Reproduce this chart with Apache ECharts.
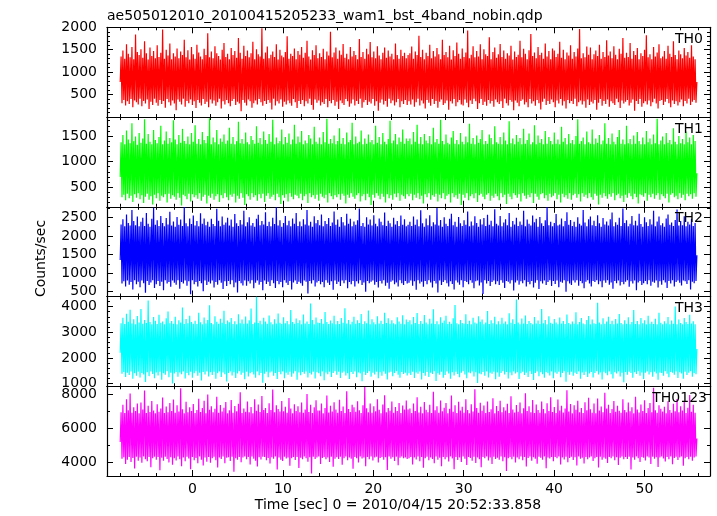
<!DOCTYPE html>
<html><head><meta charset="utf-8">
<script src="https://cdn.jsdelivr.net/npm/echarts@6/dist/echarts.min.js"></script>
<style>html,body{margin:0;padding:0;background:#fff}#c{width:717px;height:516px}</style>
</head><body><div id="c"></div>
<script>
const chartTitle = 'ae505012010_20100415205233_wam1_bst_4band_nobin.qdp';
const xAxisTitle = 'Time [sec] 0 = 2010/04/15 20:52:33.858';
const yAxisTitle = 'Counts/sec';
const bandNames = ['TH0', 'TH1', 'TH2', 'TH3', 'TH0123'];
const timeStart = -8.0;
const timeEnd = 55.8;
const xRange = [-9.46, 57.25];
const xMajorTicks = [0, 10, 20, 30, 40, 50];
const xMinorStep = 2;

const th0 = [
780,1350,310,1480,380,1300,260,1620,350,1410,290,1330,400,1560,220,1290,370,1840,330,1450,
280,1380,410,1510,240,1320,360,1690,300,1420,390,1280,180,1550,340,1360,270,1470,410,1310,
320,1600,250,1340,380,1430,290,1950,360,1300,210,1500,400,1370,330,1640,260,1290,370,1420,
300,1350,150,1530,390,1310,340,1460,280,1380,410,1720,230,1330,360,1490,310,1280,390,1560,
270,1400,350,1300,200,1610,380,1440,320,1350,260,1290,400,1520,290,1380,340,1870,220,1330,
390,1460,300,1310,370,1580,250,1420,330,1360,410,1280,190,1500,350,1650,280,1340,380,1410,
310,1290,240,1540,360,1380,400,1470,270,1320,340,1760,300,1430,130,1300,380,1590,320,1360,
260,1480,390,1330,350,1420,210,1680,310,1290,370,1510,280,1400,400,1350,330,1980,250,1300,
360,1440,290,1570,380,1310,320,1390,170,1460,410,1340,260,1620,350,1280,300,1500,390,1370,
230,1330,340,1450,280,1800,370,1300,310,1410,250,1360,400,1530,330,1290,200,1470,360,1390,
290,1560,380,1320,240,1430,350,1700,300,1350,410,1280,270,1490,160,1380,390,1600,320,1310,
370,1420,260,1340,330,1520,290,1290,400,1460,220,1370,360,1900,310,1330,380,1440,250,1550,
340,1300,180,1480,370,1390,310,1630,270,1320,400,1410,350,1290,230,1560,300,1350,390,1470,
260,1380,360,1290,290,1740,410,1340,210,1450,330,1300,380,1520,270,1400,340,1670,300,1330,
400,1460,250,1310,350,1580,140,1370,320,1290,390,1430,280,1550,360,1320,230,1480,410,1350,
310,1410,370,1290,260,1640,330,1380,400,1300,220,1500,350,1360,290,1430,380,1310,270,1380,
350,1420,280,1570,390,1300,230,1460,330,1380,410,1810,260,1340,370,1500,300,1290,190,1430,
380,1360,320,1610,250,1310,400,1470,290,1350,360,1540,210,1400,340,1290,390,1720,270,1380,
310,1450,370,1330,160,1590,350,1280,300,1490,400,1360,240,1660,330,1410,380,1300,280,1530,
260,1340,390,1440,320,1930,220,1310,370,1390,290,1580,410,1330,350,1470,180,1350,310,1620,
400,1290,270,1510,340,1400,250,1360,380,1780,300,1290,360,1450,230,1550,390,1320,330,1400,
290,1630,350,1340,200,1480,410,1300,310,1420,260,1370,380,1590,340,1280,150,1460,370,1340,
320,1390,240,1700,360,1330,390,1520,280,1410,330,1290,220,1490,400,1850,300,1360,350,1440,
250,1310,380,1560,310,1380,170,1430,340,1300,410,1640,270,1350,360,1470,290,1290,390,1530,
330,1480,220,1340,370,1410,300,1680,400,1320,260,1500,350,1290,190,1440,380,1370,310,1600,
360,1300,290,1450,410,1350,240,1530,330,1960,370,1310,280,1420,350,1330,210,1570,390,1390,
270,1550,340,1290,300,1400,380,1480,160,1360,320,1610,400,1300,250,1450,360,1340,290,1710,
390,1370,230,1460,350,1310,310,1580,270,1390,410,1290,330,1520,200,1410,370,1760,300,1320,
340,1430,380,1340,260,1650,320,1300,390,1470,140,1380,360,1540,290,1290,400,1420,230,1360,
310,1500,350,1820,280,1330,370,1400,240,1290,330,1560,410,1350,300,1440,190,1620,360,1310,
380,1350,270,1470,340,1300,400,1590,310,1410,220,1340,370,1690,290,1380,350,1290,260,1480,
330,1400,390,1310,240,1540,360,1370,300,1450,410,1320,270,1600,340,1350,380,1290,320,780
];
const th1 = [
700,1380,300,1520,350,1340,240,1610,370,1430,280,1360,330,1750,210,1400,360,1490,290,1330,
380,1560,260,1370,340,1450,190,1830,310,1350,370,1540,250,1390,320,1340,160,1620,350,1420,
280,1360,380,1480,230,1700,330,1340,300,1410,360,1590,200,1350,370,1460,270,1380,340,1810,
310,1430,250,1340,380,1520,290,1370,140,1640,350,1400,320,1350,260,1490,370,1340,220,1560,
360,1390,300,1710,340,1350,270,1440,380,1340,230,1580,310,1420,350,1360,180,1500,330,1850,
290,1340,370,1470,250,1380,320,1620,360,1340,210,1450,340,1390,280,1530,380,1350,300,1410,
240,1660,350,1350,310,1480,370,1340,200,1400,330,1780,270,1360,380,1440,290,1350,150,1570,
360,1380,320,1340,250,1500,380,1420,300,1350,340,1690,230,1370,360,1460,280,1340,370,1590,
210,1420,330,1350,380,1540,270,1390,310,1820,350,1340,240,1470,370,1360,300,1400,170,1630,
340,1340,290,1480,360,1370,220,1550,380,1340,310,1430,260,1720,350,1350,330,1490,280,1380,
370,1600,240,1340,320,1410,360,1360,190,1520,380,1450,300,1340,340,1680,270,1390,350,1350,
230,1470,370,1340,310,1580,280,1380,350,1840,200,1350,380,1440,320,1360,260,1510,340,1340,
300,1400,360,1650,250,1350,370,1460,330,1340,180,1570,350,1380,290,1420,380,1760,310,1340,
270,1490,340,1360,380,1390,220,1610,320,1340,360,1450,240,1350,370,1530,300,1380,150,1420,
350,1340,290,1700,380,1370,330,1480,260,1340,370,1560,310,1390,200,1340,360,1440,280,1800,
340,1360,250,1410,370,1540,300,1340,380,1470,230,1390,350,1630,320,1350,270,1450,360,1400,
320,1450,370,1340,240,1580,350,1390,290,1720,380,1350,260,1480,330,1340,180,1540,360,1410,
300,1360,380,1500,250,1340,340,1660,310,1380,370,1440,220,1350,350,1820,280,1400,380,1340,
260,1530,330,1370,360,1340,200,1470,380,1600,300,1350,340,1420,270,1340,370,1560,150,1390,
350,1340,290,1490,380,1380,240,1740,320,1350,360,1460,280,1340,380,1510,210,1370,340,1440,
370,1620,310,1340,260,1400,350,1350,380,1530,230,1460,330,1340,290,1690,370,1380,320,1350,
240,1480,380,1340,300,1570,350,1410,170,1340,370,1790,310,1360,260,1450,380,1340,340,1520,
290,1390,360,1460,220,1340,380,1640,330,1350,270,1420,350,1550,300,1340,380,1380,190,1710,
370,1340,310,1510,250,1370,360,1440,380,1340,280,1600,340,1350,230,1480,370,1400,300,1340,
330,1570,380,1350,260,1430,350,1340,200,1680,370,1390,300,1460,340,1340,270,1540,380,1360,
250,1420,340,1340,370,1500,290,1830,360,1350,220,1400,380,1470,310,1340,350,1590,280,1380,
380,1350,300,1630,250,1340,370,1450,330,1370,160,1520,350,1340,290,1410,380,1750,320,1350,
270,1460,360,1340,310,1550,380,1390,240,1340,340,1480,370,1620,280,1350,330,1430,210,1340,
350,1700,290,1360,380,1440,320,1340,260,1510,370,1350,300,1580,180,1400,360,1340,340,1470,
310,1340,380,1600,230,1380,350,1450,300,1340,370,1530,270,1360,340,1840,380,1340,250,1410,
360,1490,320,1340,280,1560,370,1370,200,1420,350,1340,380,1650,300,1390,330,1340,260,1500,
380,1360,290,1440,350,1340,240,1590,370,1380,320,1470,360,1340,270,1520,380,1400,310,770
];
const th2 = [
1350,2310,720,2450,780,2260,640,2580,800,2350,690,2280,760,2700,560,2400,810,2290,700,2520,
770,2260,620,2380,800,2490,730,2270,470,2620,790,2330,680,2250,750,2460,810,2760,600,2300,
700,2420,790,2270,650,2540,770,2350,540,2260,810,2480,720,2310,760,2650,630,2280,800,2390,
740,2250,690,2510,810,2300,580,2440,760,2270,720,2780,800,2340,660,2260,780,2470,430,2320,
810,2550,700,2280,760,2400,640,2260,790,2610,730,2330,510,2470,800,2290,680,2380,770,2250,
720,2460,800,2320,610,2270,760,2730,690,2410,810,2260,740,2520,570,2300,780,2360,650,2490,
790,2280,700,2440,810,2250,620,2590,750,2340,480,2270,790,2430,730,2310,670,2680,800,2260,
660,2370,780,2500,720,2280,810,2350,590,2250,740,2460,800,2570,690,2290,760,2400,540,2310,
800,2640,710,2270,770,2380,650,2260,810,2490,730,2320,600,2770,790,2280,700,2420,760,2250,
620,2350,810,2540,740,2290,680,2410,790,2260,560,2470,750,2330,800,2620,710,2270,770,2390,
730,2260,660,2450,800,2310,770,2700,450,2280,790,2380,720,2250,810,2530,640,2340,750,2430,
790,2290,700,2580,760,2260,620,2400,810,2320,740,2480,680,2270,780,2360,550,2660,800,2300,
710,2440,770,2250,650,2510,800,2370,730,2280,810,2600,590,2330,760,2460,700,2260,790,2390,
640,2300,780,2420,720,2740,810,2270,680,2350,750,2250,500,2500,790,2310,730,2440,770,2280,
800,2560,690,2330,760,2260,610,2470,790,2380,720,2290,810,2630,660,2270,740,2410,580,2340,
770,2250,800,2490,700,2310,750,2400,640,2270,810,2550,730,2300,680,2450,790,2260,720,2300,
740,2380,800,2270,660,2520,780,2300,550,2440,810,2260,720,2690,770,2340,630,2250,790,2470,
700,2290,810,2560,750,2260,610,2370,790,2310,720,2750,480,2280,800,2430,680,2250,760,2500,
810,2330,730,2270,640,2460,780,2600,710,2290,560,2380,800,2250,750,2510,690,2340,810,2270,
620,2420,790,2300,760,2660,700,2260,810,2390,740,2280,590,2530,780,2350,800,2250,670,2450,
750,2310,440,2480,810,2270,720,2570,790,2300,650,2410,760,2260,800,2720,700,2330,780,2280,
680,2540,810,2260,740,2360,600,2450,790,2290,770,2620,720,2250,810,2400,530,2310,750,2490,
800,2270,690,2390,780,2300,730,2680,810,2260,640,2440,760,2330,700,2280,790,2550,610,2370,
740,2460,810,2250,570,2510,780,2340,720,2270,800,2420,680,2770,760,2290,810,2380,650,2260,
790,2350,710,2590,800,2280,620,2310,770,2470,740,2260,810,2400,500,2640,780,2300,720,2430,
680,2270,800,2380,750,2250,810,2500,660,2330,790,2280,730,2700,590,2360,770,2260,810,2450,
720,2520,640,2290,790,2410,760,2270,810,2560,700,2340,780,2250,620,2480,800,2310,740,2390,
810,2280,690,2450,750,2630,580,2260,790,2370,730,2300,800,2490,670,2270,760,2740,700,2350,
770,2420,810,2260,630,2330,780,2540,720,2290,800,2410,540,2280,750,2600,790,2320,680,2250,
730,2500,790,2370,700,2270,810,2450,660,2310,770,2680,740,2260,800,2390,610,2520,780,2290,
690,2340,810,2250,750,2470,600,2580,790,2300,720,2360,810,2270,640,2430,760,2710,800,2280,
740,2400,670,2290,800,2530,780,2260,710,2380,810,2310,560,2460,770,2270,730,2350,790,1480
];
const th3 = [
2200,3350,1380,3560,1450,3320,1260,3720,1420,3410,1330,3870,1470,3340,1190,3500,1400,3310,1300,3630,
1460,3380,1240,3900,1410,3330,1350,3480,1060,3360,1440,4230,1290,3400,1470,3310,1370,3590,1210,3450,
1430,3320,1310,3680,1460,3370,1150,3420,1400,3310,1340,3540,1480,3810,1250,3350,1420,3440,1000,3330,
1390,3600,1450,3310,1270,3470,1430,3380,1360,3960,1470,3320,1200,3510,1410,3350,1320,3640,1460,3400,
1230,3330,1400,3450,1480,3320,1300,3760,1420,3390,1120,3310,1450,3570,1350,3340,1470,3480,1280,4050,
1440,3360,1330,3310,1460,3620,1190,3410,1400,3330,1470,3520,1260,3370,1430,3840,1360,3320,1080,3460,
1410,3390,1470,3550,1310,3320,1440,3430,1220,3310,1390,3700,1480,3350,1340,3490,1420,3330,1170,3610,
1460,3340,1280,3470,1400,3920,1450,3320,1350,3380,1230,4380,1470,3360,1320,3450,1410,3310,1030,3560,
1380,3420,1460,3330,1250,3650,1430,3390,1470,3310,1300,3500,1410,3340,1180,3730,1450,3370,1360,3320,
1470,3580,1210,3350,1420,3440,1340,3310,1460,3860,1270,3400,1390,3330,1480,3530,1150,3360,1430,3470,
1320,3310,1450,3690,1380,3340,1470,3420,1240,3320,1410,4120,1350,3480,1460,3310,1200,3570,1440,3380,
1400,3360,1290,3510,1470,3330,1130,3790,1430,3400,1360,3320,1460,3460,1260,3350,1410,3640,1480,3310,
1340,3440,1460,3320,1220,3550,1420,3370,1470,3930,1310,3340,1400,3480,1180,3310,1450,3410,1370,3600,
1470,3330,1250,3470,1430,3360,1390,3710,1090,3320,1460,3430,1330,3350,1410,3850,1480,3310,1270,3500,
1420,3390,1350,3310,1460,3620,1210,3340,1440,3450,1300,3320,1470,3760,1380,3360,1160,3540,1430,3330,
1460,3470,1290,3350,1410,3310,1480,3580,1340,3420,1230,3330,1450,3660,1370,3310,1420,3490,1310,3400,
1400,3470,1330,3310,1460,3590,1220,3360,1430,3750,1380,3320,1470,3440,1160,3330,1410,3670,1300,3380,
1450,3310,1260,3520,1420,3340,1370,3890,1480,3320,1100,3430,1400,3310,1340,3580,1460,3370,1230,3460,
1330,3640,1470,3320,1390,3410,1190,3330,1440,3540,1310,4060,1460,3350,1370,3310,1250,3480,1420,3360,
1480,3330,1350,3700,1210,3320,1430,3450,1400,3310,1470,3560,1280,3380,1440,3340,1020,3620,1390,3410,
1360,3490,1450,3310,1300,3380,1470,3830,1240,3320,1420,3470,1380,3350,1460,3600,1170,3310,1430,3430,
1270,3310,1410,3560,1480,3340,1350,3420,1450,3310,1200,3740,1430,3370,1320,3500,1470,3320,1390,4270,
1440,3380,1180,3310,1400,3530,1460,3340,1330,3650,1420,3320,1260,3440,1480,3360,1370,3310,1140,3590,
1410,3340,1470,3460,1290,3320,1440,3900,1360,3350,1230,3480,1450,3310,1400,3620,1310,3370,1470,3330,
1210,3510,1430,3380,1380,3310,1460,3570,1250,3340,1410,3440,1480,3320,1070,3690,1440,3360,1340,3310,
1460,3420,1300,3330,1420,3780,1370,3310,1470,3400,1190,3550,1430,3340,1330,3310,1460,3480,1260,3630,
1390,3310,1450,3490,1240,3350,1410,3320,1480,4150,1350,3380,1430,3310,1160,3540,1460,3330,1400,3420,
1320,3600,1470,3320,1360,3450,1200,3310,1440,3510,1390,3340,1470,3710,1280,3360,1420,3310,1050,3470,
1450,3330,1340,3580,1460,3310,1410,3400,1230,3860,1440,3320,1370,3440,1480,3310,1300,3550,1430,3350,
1180,3470,1420,3310,1470,3640,1350,3330,1440,3410,1270,3320,1460,3520,1390,3310,1150,3760,1430,3370,
1410,3310,1300,3430,1480,3340,1380,3590,1250,3310,1450,3460,1420,3330,1340,4000,1470,3310,1220,3490,
1440,3360,1390,3310,1190,3550,1460,3400,1330,3320,1420,3680,1480,3340,1270,3430,1410,3310,1360,2350
];
const th0123 = [
5200,6950,4210,7380,4300,6900,3900,7700,4150,7060,4320,8050,4020,6920,4260,7240,3640,7010,4330,7450,
4100,6880,4280,7520,3980,7100,4340,8220,4190,6900,4060,7330,4310,6960,3720,7600,4240,7050,4330,6890,
4150,7410,4320,6970,3540,7160,4270,7810,4090,6900,4330,7280,4200,6940,4000,7480,4300,7020,3860,7690,
4250,6910,4110,7350,4340,6980,4180,8360,3780,7120,4290,6890,4070,7560,4330,6950,4230,7240,3600,7010,
4310,7430,4130,6900,4260,7070,3950,7730,4340,6960,4160,7190,3820,7620,4280,6880,4040,7990,4320,7090,
3980,7300,4250,6940,4330,7150,4120,7850,3700,6910,4290,7370,4200,6980,4340,7210,3950,7540,4270,6890,
4300,7060,4080,7660,4330,6920,3450,7310,4240,7000,4150,7440,4320,8120,4010,6900,4280,7170,4340,6970,
4190,7570,4310,6950,3870,7250,4340,6890,4220,7710,4100,7030,3760,7400,4300,6960,4170,7900,4330,7080,
4320,7200,4130,6900,4260,7470,3930,7080,4300,8280,4210,6940,4340,7350,3580,7130,4280,6990,4150,7610,
4080,7000,4330,7270,4230,6920,4290,7780,3800,7160,4250,6890,4320,7420,4140,7020,4310,7300,3670,6950,
4270,7510,4180,6910,4340,7110,4240,8010,4040,6960,4300,7380,3340,6900,4330,7230,4200,7650,4280,7040,
4340,7050,3910,7450,4260,6890,4310,7190,4180,7930,4290,6930,4030,7320,4330,6980,3740,7530,4220,7100,
4300,6920,4200,7680,4330,7020,3860,7280,4250,6900,4340,8170,4120,7140,4290,6960,4210,7390,3620,7240,
4310,6970,4240,7590,4000,7060,4340,6900,4230,7350,4280,8420,3770,7180,4320,6940,4190,7460,4340,6910,
4110,7290,4280,7000,4330,7700,3990,7090,4260,6890,4310,7400,4160,7940,4300,6950,3560,7200,4340,7030,
4210,7570,4300,6920,4080,7250,4330,7020,3830,7480,4270,6900,4340,7340,4240,7110,4290,7630,4200,7100,
4250,7160,4320,6900,3880,7450,4290,7020,4170,7820,4340,6930,4060,7270,4310,6880,3690,7540,4240,7090,
4330,6950,4120,7380,4280,6900,4200,8150,3950,7060,4340,7300,4160,6920,4270,7640,3780,7000,4320,7210,
4180,7480,4300,6890,4050,7150,4340,7930,4230,6970,3600,7360,4310,6900,4140,7560,4290,7040,4020,7260,
4340,6920,4210,7700,3840,7080,4320,6890,4260,7420,4100,6980,4330,8300,3970,7190,4280,6910,4190,7500,
3720,7030,4310,7340,4240,6900,4340,7580,4110,6960,4290,7120,3900,7760,4330,6880,4200,7310,4270,7010,
4150,7620,4340,6940,4060,7230,4300,7050,3500,7440,4250,6900,4320,7880,4180,7100,4330,6930,3990,7370,
4280,6970,4190,7510,4340,6890,4120,7180,4310,8060,3760,7020,4260,7290,4340,6950,4090,7660,4300,6900,
4220,7400,3920,7070,4330,6920,4270,7570,4160,7130,4340,6890,3650,7470,4290,7010,4230,7820,4320,6960,
4070,7250,4310,6900,4240,7690,4340,7040,3880,7320,4280,6930,4170,7160,4330,8230,4010,6980,4260,7430,
4330,6890,4140,7350,4300,7090,3810,7620,4340,6940,4210,7200,4270,6900,3940,7530,4320,7060,4180,7800,
4290,7120,4340,6920,4080,7460,4250,6880,4310,7750,3700,7040,4330,7280,4150,6950,4280,8090,4220,7170,
3960,7390,4320,6900,4240,7140,4340,7600,4130,6970,4300,7330,3850,7030,4270,6910,4340,7710,4190,7080,
4310,6940,4200,7520,4330,7000,3580,7240,4280,6890,4160,7850,4340,7110,4250,6930,4030,7400,4320,7020,
4270,7650,4110,6900,4340,7190,4290,7480,3910,6950,4330,8380,4220,7060,4300,6910,3730,7350,4280,7150,
4340,6980,4230,7270,4050,6890,4310,7590,4180,7070,4340,6920,3890,7440,4260,7000,4330,7720,4140,6940,
4290,7300,4340,7050,3800,7560,4250,6900,4320,7210,4190,7960,4330,6970,4100,7380,4280,6920,4340,5400
];

const yRanges = [[0, 2000], [114, 1872], [370, 2785], [895, 4390], [3200, 8470]];
const yMajorTicks = [
  [500, 1000, 1500, 2000],
  [500, 1000, 1500],
  [500, 1000, 1500, 2000, 2500],
  [1000, 2000, 3000, 4000],
  [4000, 6000, 8000]
];
const yMinorSteps = [100, 100, 250, 200, 1000];

// ---------- layout / style ----------
const seriesValues = [th0, th1, th2, th3, th0123];
const colors = ['#ff0000', '#00ff00', '#0000ff', '#00ffff', '#ff00ff'];
const FONT = 'DejaVu Sans';
const gridLeft = 107, gridRight = 710, gridTop = 27.3, panelH = 89.74;

function stepTicks(min, max, step) {
  const out = [];
  for (let v = Math.ceil(min / step) * step; v <= max + 1e-9; v += step) out.push(+v.toFixed(6));
  return out;
}
const plain = v => String(v);

const grids = [], xAxes = [], yAxes = [], series = [], graphics = [];
const xMinor = stepTicks(xRange[0], xRange[1], xMinorStep);
const axisLineStyle = { color: '#000', width: 1.2 };

for (let i = 0; i < 5; i++) {
  const top = gridTop + i * panelH;
  grids.push({ left: gridLeft, width: gridRight - gridLeft, top: top, height: panelH });
  const isLast = i === 4;
  const baseX = xAxes.length;
  const mkX = (pos, major, showLine, labels) => ({
    type: 'value', gridIndex: i, position: pos, min: xRange[0], max: xRange[1],
    axisLine: { show: showLine, onZero: false, lineStyle: axisLineStyle },
    axisTick: { show: true, inside: true, length: major ? 6 : 3, customValues: major ? xMajorTicks : xMinor, lineStyle: { color: '#000', width: 1 } },
    axisLabel: labels ? { show: true, customValues: xMajorTicks, formatter: plain, margin: 6, color: '#000', fontSize: 14, fontFamily: FONT } : { show: false },
    splitLine: { show: false }
  });
  xAxes.push(mkX('bottom', true, true, isLast));
  xAxes.push(mkX('bottom', false, false, false));
  xAxes.push(mkX('top', true, true, false));
  xAxes.push(mkX('top', false, false, false));

  const baseY = yAxes.length;
  const [ymin, ymax] = yRanges[i];
  const majors = yMajorTicks[i].filter(v => v >= ymin && v <= ymax);
  const minors = stepTicks(ymin, ymax, yMinorSteps[i]);
  const mkY = (pos, major, showLine, labels) => ({
    type: 'value', gridIndex: i, position: pos, min: ymin, max: ymax,
    axisLine: { show: showLine, onZero: false, lineStyle: axisLineStyle },
    axisTick: { show: true, inside: true, length: major ? 6 : 3, customValues: major ? majors : minors, lineStyle: { color: '#000', width: 1 } },
    axisLabel: labels ? { show: true, customValues: majors, formatter: plain, margin: 10, color: '#000', fontSize: 14, fontFamily: FONT } : { show: false },
    splitLine: { show: false }
  });
  yAxes.push(mkY('left', true, true, true));
  yAxes.push(mkY('left', false, false, false));
  yAxes.push(mkY('right', true, true, false));
  yAxes.push(mkY('right', false, false, false));

  const vals = seriesValues[i];
  const n = vals.length;
  const dt = (timeEnd - timeStart) / (n - 1);
  series.push({
    type: 'line', xAxisIndex: baseX, yAxisIndex: baseY,
    data: vals.map((v, k) => [timeStart + k * dt, v]),
    showSymbol: false, symbol: 'none', sampling: null, silent: true,
    lineStyle: { color: colors[i], width: 1.2 }, itemStyle: { color: colors[i] },
    z: 1
  });

  graphics.push({
    type: 'text', x: i === 4 ? 707 : 703, y: top + 5,
    style: { text: bandNames[i], font: '14px "' + FONT + '"', fill: '#000', align: 'right', verticalAlign: 'top' },
    z: 100
  });
}

graphics.push({ type: 'text', x: 107, y: 16, style: { text: chartTitle, font: '14px "' + FONT + '"', fill: '#000', align: 'left', verticalAlign: 'middle' } });
graphics.push({ type: 'text', x: 398, y: 505.5, style: { text: xAxisTitle, font: '14px "' + FONT + '"', fill: '#000', align: 'center', verticalAlign: 'middle' } });
graphics.push({ type: 'text', x: 41.3, y: 258.5, rotation: Math.PI / 2, style: { text: yAxisTitle, font: '14px "' + FONT + '"', fill: '#000', align: 'center', verticalAlign: 'middle' } });

const chart = echarts.init(document.getElementById('c'), null, { renderer: 'canvas' });
chart.setOption({
  animation: false,
  backgroundColor: '#fff',
  grid: grids,
  xAxis: xAxes,
  yAxis: yAxes,
  series: series,
  graphic: graphics
});
</script>
</body></html>
